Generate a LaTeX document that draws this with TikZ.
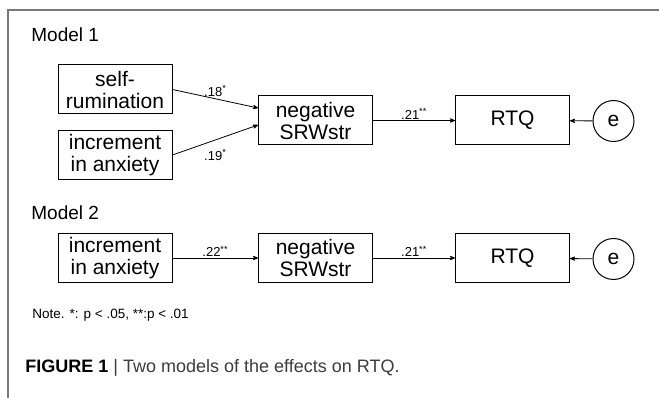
\documentclass[tikz,border=0pt]{standalone}
\usepackage{fontspec}
\setmainfont{Liberation Sans}
\usepackage{tikz}
\usetikzlibrary{arrows}
\usetikzlibrary{positioning}
\definecolor{framegray}{RGB}{120,120,120}
\definecolor{captgray}{RGB}{60,60,60}
\tikzset{
    var/.style={
           rectangle,
           draw=black, line width=1pt,
           minimum width=114pt,
           minimum height=49pt,
           inner sep=1pt,
           align=center,
           font=\fontsize{21}{22}\selectfont,
           },
    err/.style={
           circle,
           draw=black, line width=1pt,
           minimum size=41pt,
           inner sep=0pt,
           font=\fontsize{21}{22}\selectfont,
           },
    coef/.style={
           font=\fontsize{13}{14}\selectfont,
           inner sep=1pt,
           },
    title/.style={
           anchor=west,
           font=\fontsize{19}{21}\selectfont,
           inner sep=0pt,
           },
}

\begin{document}
\begin{tikzpicture}[->,>=stealth',x=1pt,y=-1pt,line width=0.8pt]

 \useasboundingbox (0,0) rectangle (659,398);

 % frame: top and left edge only
 \draw[-,framegray,line width=2pt] (8,398) -- (8,10) -- (659,10);

 % Model 1
 \node[title] (TITLEA) at (31,35) {Model 1};

 \node[var] (SELF) at (115,89.5) {self-\\rumination};
 \node[var] (INCA) at (115,155) {increment\\in anxiety};
 \node[var] (NEGA) at (315.5,120.5) {negative\\SRWstr};
 \node[var] (RTQA) at (512.5,120.5) {RTQ};
 \node[err] (ERRA) at (613.5,121) {e};

 \draw (SELF.east) -- node[coef,above=1pt] {.18\textsuperscript{*}} ([yshift=12.5pt]NEGA.west);
 \draw (INCA.east) -- node[coef,below=8pt] {.19\textsuperscript{*}} ([yshift=-4.5pt]NEGA.west);
 \draw (NEGA) -- node[coef,above] {.21\textsuperscript{**}} (RTQA);
 \draw (ERRA) -- (RTQA);

 % Model 2
 \node[title] (TITLEB) at (31,213) {Model 2};

 \node[var] (INCB) at (115,258) {increment\\in anxiety};
 \node[var] (NEGB) at (315.5,258) {negative\\SRWstr};
 \node[var] (RTQB) at (512.5,258) {RTQ};
 \node[err] (ERRB) at (613.5,259) {e};

 \draw (INCB) -- node[coef,above] {.22\textsuperscript{**}} (NEGB);
 \draw (NEGB) -- node[coef,above] {.21\textsuperscript{**}} (RTQB);
 \draw (ERRB) -- (RTQB);

 % note and caption
 \node[anchor=west,inner sep=0pt,font=\fontsize{13.5}{15}\selectfont] (NOTE) at (32,315)
   {Note. *: p < .05, **:p < .01};
 \node[anchor=west,inner sep=0pt,font=\fontsize{18}{20}\selectfont] (CAPTION) at (25,368)
   {\textbf{FIGURE 1} {\color{captgray}| Two models of the effects on RTQ.}};
\end{tikzpicture}
\end{document}
